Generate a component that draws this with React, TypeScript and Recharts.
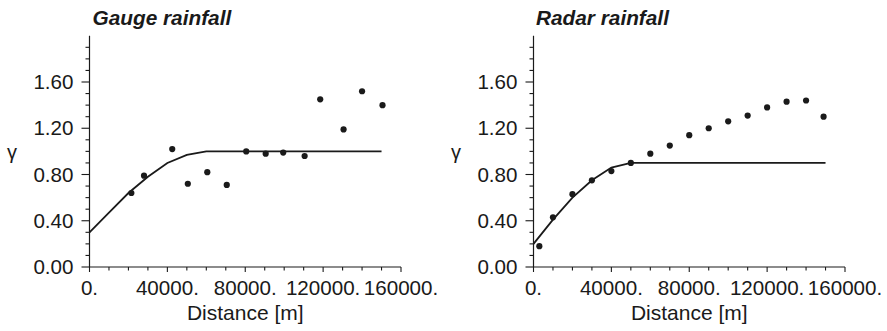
import { ComposedChart, Line, Scatter, XAxis, YAxis } from "recharts";

// experimental semivariogram points (lag distance in m, gamma)
const gaugeLag = [21500, 28000, 42500, 50500, 60500, 70500, 80500, 90500, 99500, 110500, 118500, 130500, 140000, 150500];
const gaugeGamma = [0.64, 0.79, 1.02, 0.72, 0.82, 0.71, 1.0, 0.98, 0.99, 0.96, 1.45, 1.19, 1.52, 1.4];

// fitted model curve
const gaugeModelLag = [0, 10000, 20000, 30000, 40000, 50000, 60000, 150000];
const gaugeModelGamma = [0.3, 0.47, 0.64, 0.78, 0.9, 0.97, 1.0, 1.0];

const radarLag = [3000, 10000, 20000, 30000, 40000, 50000, 60000, 70000, 80000, 90000, 100000, 110000, 120000, 130000, 140000, 149000];
const radarGamma = [0.18, 0.43, 0.63, 0.75, 0.83, 0.9, 0.98, 1.05, 1.14, 1.2, 1.26, 1.31, 1.38, 1.43, 1.44, 1.3];

const radarModelLag = [0, 10000, 20000, 30000, 40000, 50000, 150000];
const radarModelGamma = [0.2, 0.41, 0.6, 0.75, 0.86, 0.9, 0.9];

const xMajorTicks = [0, 40000, 80000, 120000, 160000];
const xMinorTicks = [10000, 20000, 30000, 50000, 60000, 70000, 90000, 100000, 110000, 130000, 140000, 150000];
const yMajorTicks = [0, 0.4, 0.8, 1.2, 1.6];
const yMinorTicks = [0.1, 0.2, 0.3, 0.5, 0.6, 0.7, 0.9, 1.0, 1.1, 1.3, 1.4, 1.5, 1.7, 1.8, 1.9];

const INK = "#1a1a1a";
const FONT = "'Liberation Sans', Arial, Helvetica, sans-serif";

const toPoints = (xs: number[], ys: number[]) => xs.map((x, i) => ({ x, y: ys[i] }));

const XTick = (props: any) => {
  const { x, y, payload } = props;
  const major = xMajorTicks.includes(payload.value);
  return (
    <g>
      <line x1={x} x2={x} y1={y} y2={y + (major ? 5 : 3.5)} stroke={INK} strokeWidth={1.1} />
      {major && (
        <text x={x} y={y + 28} textAnchor="middle" fontSize={20.6} fill={INK} fontFamily={FONT}>
          {`${payload.value}.`}
        </text>
      )}
    </g>
  );
};

const YTick = (props: any) => {
  const { x, y, payload } = props;
  const major = yMajorTicks.includes(payload.value);
  return (
    <g>
      <line x1={x} x2={x - (major ? 8 : 4)} y1={y} y2={y} stroke={INK} strokeWidth={1.1} />
      {major && (
        <text x={x - 16} y={y + 7} textAnchor="end" fontSize={20.6} fill={INK} fontFamily={FONT}>
          {payload.value.toFixed(2)}
        </text>
      )}
    </g>
  );
};

const Dot = (props: any) => <circle cx={props.cx} cy={props.cy} r={3.1} fill={INK} />;

function Panel({ points, model }: { points: { x: number; y: number }[]; model: { x: number; y: number }[] }) {
  return (
    <ComposedChart width={443} height={331} margin={{ top: 35.75, right: 42, bottom: 11, left: 29.5 }}>
      <XAxis
        type="number"
        dataKey="x"
        domain={[0, 160000]}
        ticks={[...xMajorTicks, ...xMinorTicks].sort((a, b) => a - b)}
        interval={0}
        tickSize={0}
        tickMargin={0}
        tickLine={false}
        tick={<XTick />}
        height={53}
        stroke={INK}
        strokeWidth={1.2}
        label={{ value: "Distance [m]", position: "insideBottom", offset: 0, fontSize: 21, fill: INK, fontFamily: FONT }}
      />
      <YAxis
        type="number"
        dataKey="y"
        domain={[0, 2]}
        ticks={[...yMajorTicks, ...yMinorTicks].sort((a, b) => a - b)}
        interval={0}
        tickSize={0}
        tickMargin={0}
        tickLine={false}
        tick={<YTick />}
        width={60}
        stroke={INK}
        strokeWidth={1.2}
      />
      <Line
        data={model}
        dataKey="y"
        type="linear"
        stroke={INK}
        strokeWidth={1.8}
        dot={false}
        activeDot={false}
        isAnimationActive={false}
      />
      <Scatter data={points} dataKey="y" shape={<Dot />} isAnimationActive={false} />
    </ComposedChart>
  );
}

export default function App() {
  return (
    <div style={{ position: "absolute", left: 0, top: 0, width: 887, height: 331, background: "#fff" }}>
      <div style={{ position: "absolute", left: 0, top: 0 }}>
        <Panel points={toPoints(gaugeLag, gaugeGamma)} model={toPoints(gaugeModelLag, gaugeModelGamma)} />
      </div>
      <div style={{ position: "absolute", left: 444, top: 0 }}>
        <Panel points={toPoints(radarLag, radarGamma)} model={toPoints(radarModelLag, radarModelGamma)} />
      </div>
      <svg width={887} height={331} style={{ position: "absolute", left: 0, top: 0, pointerEvents: "none" }}>
        <text x={92.5} y={25} fontSize={20.8} fontWeight="bold" fontStyle="italic" fill={INK} fontFamily={FONT}>
          Gauge rainfall
        </text>
        <text x={536} y={25} fontSize={20.8} fontWeight="bold" fontStyle="italic" fill={INK} fontFamily={FONT}>
          Radar rainfall
        </text>
        <text x={12} y={159} fontSize={20} textAnchor="middle" fill={INK} fontFamily={FONT}>
          γ
        </text>
        <text x={456} y={159} fontSize={20} textAnchor="middle" fill={INK} fontFamily={FONT}>
          γ
        </text>
      </svg>
    </div>
  );
}
